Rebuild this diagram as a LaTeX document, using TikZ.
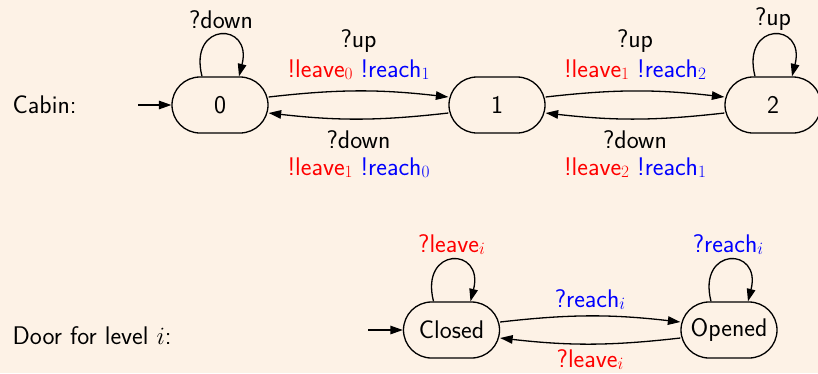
\documentclass[tikz,border=0pt]{standalone}
\usetikzlibrary{arrows.meta}
\definecolor{bgc}{RGB}{253,242,230}
\definecolor{rr}{RGB}{255,0,0}
\definecolor{bb}{RGB}{0,0,255}
\newcommand\mysub[1]{\raisebox{-2pt}{\fontsize{17.5}{20}\selectfont$#1$}}
\begin{document}
\begin{tikzpicture}[x=1pt,y=-1pt,
  font=\sffamily\fontsize{25.5}{30}\selectfont,
  line width=1.3pt,
  >={Triangle[length=12.5pt,width=8.5pt]},
  state/.style={draw, rectangle, rounded corners=28pt, minimum width=96pt, minimum height=56pt, inner sep=0pt},
  lbl/.style={inner sep=0pt, anchor=center},
  tr/.style={->},
  lp/.style={->}]
\fill[bgc] (0,0) rectangle (818,373);
\useasboundingbox (0,0) rectangle (818,373);

% Cabin automaton
\node[lbl, anchor=west] (cab) at (12,105) {Cabin:};
\node[state] (n0) at (220,105) {0};
\node[state] (n1) at (497,105) {1};
\node[state] (n2) at (773,105) {2};
\coordinate (i0) at (138,105);
\draw[tr] (i0) -- (n0.west);

\draw[lp] ([xshift=-18pt]n0.north) .. controls +(-14,-55) and +(14,-55) .. ([xshift=19pt]n0.north);
\node[lbl] (l00) at (221,20) {?down};
\draw[lp] ([xshift=-18pt]n2.north) .. controls +(-14,-55) and +(14,-55) .. ([xshift=19pt]n2.north);
\node[lbl] (l22) at (773,19) {?up};

\draw[tr] ([yshift=8pt]n0.east) to[bend left=6.5] ([yshift=8pt]n1.west);
\draw[tr] ([yshift=-8pt]n1.west) to[bend left=6.5] ([yshift=-8pt]n0.east);
\draw[tr] ([yshift=8pt]n1.east) to[bend left=6.5] ([yshift=8pt]n2.west);
\draw[tr] ([yshift=-8pt]n2.west) to[bend left=6.5] ([yshift=-8pt]n1.east);

\node[lbl] (l01a) at (358.5,41) {?up};
\node[lbl] (l01b) at (358.5,70) {\textcolor{rr}{!leave\mysub{0}} \textcolor{bb}{!reach\mysub{1}}};
\node[lbl] (l10a) at (358.5,139.5) {?down};
\node[lbl] (l10b) at (358.5,168) {\textcolor{rr}{!leave\mysub{1}} \textcolor{bb}{!reach\mysub{0}}};
\node[lbl] (l12a) at (635,41) {?up};
\node[lbl] (l12b) at (635,70) {\textcolor{rr}{!leave\mysub{1}} \textcolor{bb}{!reach\mysub{2}}};
\node[lbl] (l21a) at (635,139.5) {?down};
\node[lbl] (l21b) at (635,168) {\textcolor{rr}{!leave\mysub{2}} \textcolor{bb}{!reach\mysub{1}}};

% Door automaton
\node[lbl, anchor=west] (door) at (12,336) {Door for level $i$:};
\node[state] (cl) at (451.5,330) {Closed};
\node[state] (op) at (729,330) {Opened};
\coordinate (i1) at (368,330);
\draw[tr] (i1) -- (cl.west);

\draw[lp] ([xshift=-18pt]cl.north) .. controls +(-14,-55) and +(14,-55) .. ([xshift=19pt]cl.north);
\node[lbl] (lcc) at (451.5,245) {\textcolor{rr}{?leave\mysub{i}}};
\draw[lp] ([xshift=-18pt]op.north) .. controls +(-14,-55) and +(14,-55) .. ([xshift=19pt]op.north);
\node[lbl] (loo) at (728,245) {\textcolor{bb}{?reach\mysub{i}}};

\draw[tr] ([yshift=8pt]cl.east) to[bend left=6.5] ([yshift=8pt]op.west);
\draw[tr] ([yshift=-8pt]op.west) to[bend left=6.5] ([yshift=-8pt]cl.east);
\node[lbl] (lco) at (590,300) {\textcolor{bb}{?reach\mysub{i}}};
\node[lbl] (loc) at (590,360) {\textcolor{rr}{?leave\mysub{i}}};
\end{tikzpicture}
\end{document}
